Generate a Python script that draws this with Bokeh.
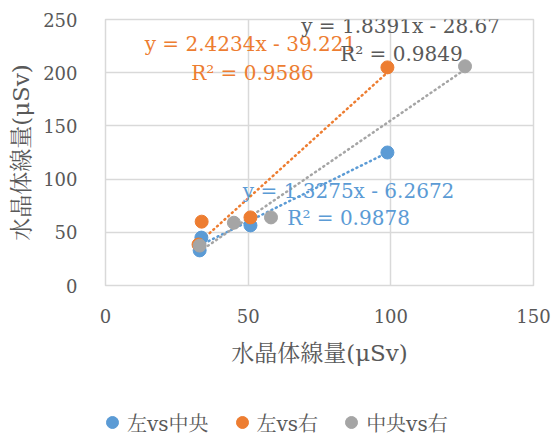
from bokeh.plotting import figure
from bokeh.layouts import column
from bokeh.models import ColumnDataSource, Legend, LegendItem, FixedTicker, Range1d
from bokeh.core.properties import value
from bokeh.embed import file_html
from bokeh.resources import INLINE

# ---- data ----
series_names = ["左vs中央", "左vs右", "中央vs右"]
blue_x = [33.0, 33.6, 50.8, 98.8]
blue_y = [33.0, 45.0, 56.5, 125.0]
orange_x = [32.6, 33.7, 50.8, 98.8]
orange_y = [38.5, 60.0, 64.0, 205.0]
gray_x = [33.0, 45.0, 58.0, 126.0]
gray_y = [37.5, 59.0, 64.0, 206.0]
slopes = [1.3275, 2.4234, 1.8391]
intercepts = [-6.2672, -39.221, -28.67]
r2_values = ["0.9878", "0.9586", "0.9849"]
eq_texts = ["y = 1.3275x - 6.2672", "y = 2.4234x - 39.221", "y = 1.8391x - 28.67"]
x_ticks = [0, 50, 100, 150]
y_ticks = [0, 50, 100, 150, 200, 250]
axis_title = "水晶体線量(μSv)"

colors = ["#5B9BD5", "#ED7D31", "#A5A5A5"]
text_colors = ["#5B9BD5", "#ED7D31", "#595959"]
FONT = "'DejaVu Serif', 'Noto Serif CJK JP', 'Noto Sans CJK JP', serif"

p = figure(width=555, height=400, output_backend="svg", toolbar_location=None,
           x_range=Range1d(0, 150), y_range=Range1d(0, 250),
           min_border_top=19, min_border_right=22, min_border_left=105, min_border_bottom=115)
p.background_fill_color = "white"
p.border_fill_color = "white"
p.outline_line_color = "#D9D9D9"
p.outline_line_width = 1.5

for ax, ticks in ((p.xaxis[0], x_ticks), (p.yaxis[0], y_ticks)):
    ax.ticker = FixedTicker(ticks=ticks)
    ax.axis_line_color = None
    ax.major_tick_line_color = None
    ax.minor_tick_line_color = None
    ax.major_label_text_font = FONT
    ax.major_label_text_font_size = "18px"
    ax.major_label_text_color = "#595959"
    ax.axis_label = axis_title
    ax.axis_label_text_font = FONT
    ax.axis_label_text_font_size = "23px"
    ax.axis_label_text_font_style = "normal"
    ax.axis_label_text_color = "#595959"

p.xaxis[0].major_label_standoff = 17
p.xaxis[0].axis_label_standoff = 14
p.yaxis[0].major_label_standoff = 22
p.yaxis[0].axis_label_standoff = 6

p.xgrid.ticker = FixedTicker(ticks=x_ticks)
p.ygrid.ticker = FixedTicker(ticks=y_ticks)
p.grid.grid_line_color = "#D9D9D9"
p.grid.grid_line_width = 1.5

xs_all = [blue_x, orange_x, gray_x]
ys_all = [blue_y, orange_y, gray_y]

# trendlines
for i in range(3):
    x0, x1 = min(xs_all[i]), max(xs_all[i])
    p.line([x0, x1], [slopes[i] * x0 + intercepts[i], slopes[i] * x1 + intercepts[i]],
           line_color=colors[i], line_width=2.5, line_dash="1 4", line_cap="round")

for i in range(3):
    src = ColumnDataSource(dict(x=xs_all[i], y=ys_all[i]))
    p.scatter("x", "y", source=src, size=13, marker="circle",
              fill_color=colors[i], line_color=colors[i])

# trendline labels (data-coordinate anchors)
label_pos = [((85.2, 89), (85.2, 63)), ((50.8, 227), (51.5, 200)), ((103.4, 244), (103.7, 218))]
for i in range(3):
    (ex, ey), (rx, ry) = label_pos[i]
    p.text(x=[ex], y=[ey], text=[eq_texts[i]], text_font=value(FONT), text_font_size="20px",
           text_color=text_colors[i], text_align="center", text_baseline="middle")
    p.text(x=[rx], y=[ry], text=["R² = " + r2_values[i]], text_font=value(FONT), text_font_size="20px",
           text_color=text_colors[i], text_align="center", text_baseline="middle")

# ---- legend strip (separate figure below the chart) ----
lf = figure(width=555, height=34, output_backend="svg", toolbar_location=None,
            x_axis_type=None, y_axis_type=None, x_range=Range1d(0, 1), y_range=Range1d(0, 1),
            min_border=0)
lf.outline_line_color = None
lf.grid.visible = False
lf.background_fill_color = "white"
lf.border_fill_color = "white"
dummies = []
for i in range(3):
    # single off-range point: only its legend swatch is visible
    dummies.append(lf.scatter(x=[-10], y=[-10], size=13, marker="circle",
                              fill_color=colors[i], line_color=colors[i]))

legend = Legend(items=[LegendItem(label=series_names[i], renderers=[dummies[i]]) for i in range(3)],
                orientation="horizontal", location=(-8, -3))
legend.label_text_font = FONT
legend.label_text_font_size = "20px"
legend.label_text_color = "#595959"
legend.border_line_color = None
legend.background_fill_alpha = 0
legend.spacing = 18
legend.glyph_width = 30
legend.glyph_height = 30
legend.label_standoff = 0
legend.margin = 0
legend.padding = 0
lf.add_layout(legend, "center")

layout = column(p, lf, spacing=0)
open("out.html", "w").write(file_html(layout, INLINE))
